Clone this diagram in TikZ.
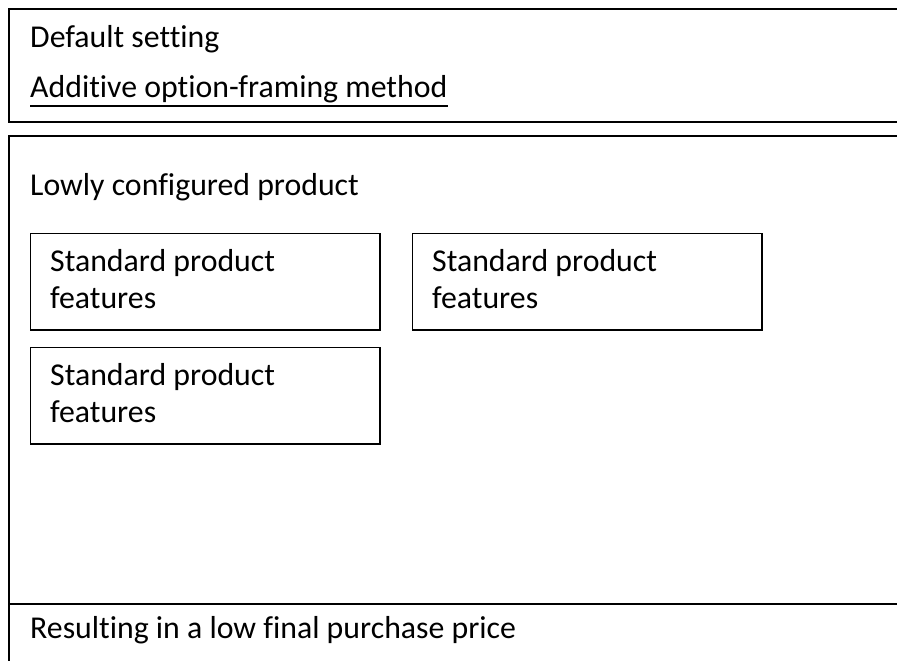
\documentclass[tikz,border=0pt]{standalone}
\usepackage{fontspec}
\setmainfont[Ligatures={NoCommon}]{Carlito}
\begin{document}
\begin{tikzpicture}[x=1pt,y=-1pt,
  txt/.style={anchor=base west,inner sep=0pt,font=\fontsize{31.8}{36.5}\selectfont},
  frame/.style={line width=2.2pt},
  featbox/.style={draw,line width=1.6pt,minimum width=349.5pt,minimum height=96.5pt,anchor=north west,inner sep=0pt}]
\useasboundingbox (0,0) rectangle (897,661);
% top box
\coordinate (a1) at (897,9);
\coordinate (a2) at (9,9);
\coordinate (a3) at (9,122);
\coordinate (a4) at (897,122);
\draw[frame] (a1) -- (a2) -- (a3) -- (a4);
% second box
\coordinate (b1) at (897,136);
\coordinate (b2) at (9,136);
\coordinate (b3) at (9,661);
\draw[frame] (b1) -- (b2) -- (b3);
\coordinate (c1) at (9,604);
\coordinate (c2) at (897,604);
\draw[line width=1.8pt] (c1) -- (c2);
% texts
\node[txt] (t1) at (30,47.5) {Default setting};
\node[txt] (t2) at (30,97) {Additive option-framing method};
\draw[line width=1.8pt] ([yshift=-9pt]t2.base west) -- ([yshift=-9pt]t2.base east);
\node[txt] (t3) at (30,195) {Lowly configured product};
\node[txt] (t4) at (30,638) {Resulting in a low final purchase price};
% feature boxes
\node[featbox] (f1) at (29.5,232.7) {};
\node[featbox] (f2) at (411.5,232.7) {};
\node[featbox] (f3) at (29.5,346.7) {};
\foreach \b in {f1,f2,f3}{
  \node[txt] (\b a) at ([xshift=20.5pt,yshift=-39pt]\b.north west) {Standard product};
  \node[txt] (\b b) at ([xshift=20.5pt,yshift=-75.5pt]\b.north west) {features};
}
\end{tikzpicture}
\end{document}
